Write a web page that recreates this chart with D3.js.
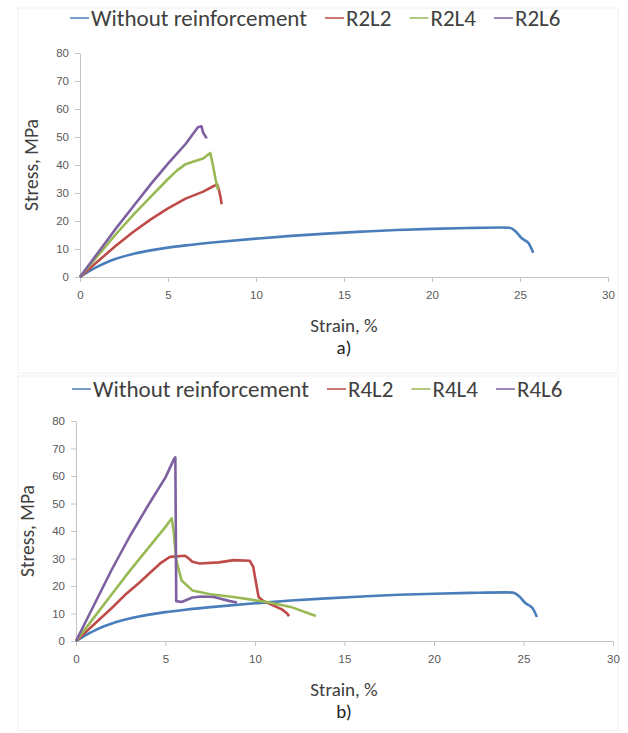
<!DOCTYPE html>
<html>
<head>
<meta charset="utf-8">
<script src="https://cdn.jsdelivr.net/npm/d3@7"></script>
<style>
  body { margin: 0; background: #fff; }
  svg { font-family: Carlito, Calibri, Lato, "Open Sans", sans-serif; }
</style>
</head>
<body>
<svg id="chart" width="628" height="733"></svg>
<script>
// ---- data (strain %, stress MPa) ----
const plainStrain = [0, 0.5, 1, 1.5, 2, 3, 4, 5, 6, 8, 10, 12, 14, 16, 18, 20, 22, 24, 24.4, 24.8, 25.1, 25.3, 25.5, 25.75];
const plainStress = [0, 2, 3.7, 5.2, 6.4, 8.2, 9.5, 10.5, 11.3, 12.6, 13.7, 14.7, 15.5, 16.2, 16.8, 17.2, 17.5, 17.7, 17.6, 16, 13.8, 13, 12, 8.7];

const r2l2Strain = [0, 1, 2, 3, 4, 5, 6, 7, 7.6, 7.8, 7.9, 8.0, 8.05];
const r2l2Stress = [0, 5.5, 11, 16, 20.5, 24.5, 28, 30.5, 32.5, 33, 31, 28, 26];
const r2l4Strain = [0, 1, 2, 3, 4, 5, 5.5, 6, 6.5, 7.0, 7.4, 7.55, 7.7, 7.85];
const r2l4Stress = [0, 7.5, 15, 22, 28.5, 35, 38, 40.3, 41.3, 42.3, 44.3, 40, 35, 31];
const r2l6Strain = [0, 1, 2, 3, 4, 5, 6, 6.7, 6.9, 7.0, 7.2];
const r2l6Stress = [0, 8.5, 17, 25, 33, 40.5, 47.5, 53.5, 53.8, 51.5, 49.5];

const r4l2Strain = [0, 1, 2, 2.83, 3.5, 4.7, 5.25, 6.1, 6.3, 6.5, 6.9, 8, 8.8, 9.7, 9.9, 10.0, 10.2, 10.45, 11, 11.5, 11.8, 11.9];
const r4l2Stress = [0, 6, 12, 17.3, 21, 28.2, 30.6, 31, 30, 28.8, 28.2, 28.6, 29.4, 29.2, 27, 23.3, 16, 14.6, 13, 11.5, 10, 9];
const r4l4Strain = [0, 1, 2, 3, 4, 5, 5.35, 5.45, 5.6, 5.9, 6.5, 7.5, 8.8, 10.65, 12, 13.4];
const r4l4Stress = [0, 8.5, 17, 25.5, 33.5, 41.5, 44.6, 40, 29.4, 22, 18.4, 17, 16, 14.2, 12.4, 9.1];
const r4l6Strain = [0, 1, 2, 3, 4, 5, 5.5, 5.55, 5.6, 5.9, 6.5, 7, 7.7, 8.6, 9];
const r4l6Stress = [0, 13, 26, 38, 49, 59.5, 66.5, 66.8, 14.5, 14.2, 15.8, 16.2, 16, 14.5, 14];

const namesA = ["Without reinforcement", "R2L2", "R2L4", "R2L6"];
const namesB = ["Without reinforcement", "R4L2", "R4L4", "R4L6"];
const xTicks = [0, 5, 10, 15, 20, 25, 30];
const yTicks = [0, 10, 20, 30, 40, 50, 60, 70, 80];

const colors = ["#4A7EBB", "#BE4B48", "#98B954", "#7D60A0"];

const svg = d3.select("#chart");

function zip(xs, ys) { return xs.map((x, i) => [x, ys[i]]); }

function drawPanel(opt) {
  const x = d3.scaleLinear().domain([0, 30]).range([opt.left, opt.right]);
  const y = d3.scaleLinear().domain([0, 80]).range([opt.bottom, opt.top]);

  // faint chart border
  svg.append("rect")
    .attr("x", opt.box[0]).attr("y", opt.box[1])
    .attr("width", opt.box[2]).attr("height", opt.box[3])
    .attr("fill", "none").attr("stroke", "#efefef");

  const xAxis = svg.append("g")
    .attr("transform", `translate(0,${opt.bottom})`)
    .call(d3.axisBottom(x).tickValues(xTicks).tickSize(5).tickSizeOuter(0).tickPadding(9));
  const yAxis = svg.append("g")
    .attr("transform", `translate(${opt.left},0)`)
    .call(d3.axisLeft(y).tickValues(yTicks).tickSize(5).tickSizeOuter(0).tickPadding(6));
  [xAxis, yAxis].forEach(a => {
    a.select(".domain").attr("stroke", "#c4c4c4");
    a.selectAll(".tick line").attr("stroke", "#c4c4c4");
    a.selectAll(".tick text").attr("fill", "#595959").style("font-size", "11.5px");
  });

  const line = d3.line().x(d => x(d[0])).y(d => y(d[1])).curve(d3.curveMonotoneX);
  const lineLin = d3.line().x(d => x(d[0])).y(d => y(d[1]));

  svg.append("g").selectAll("path")
    .data(opt.series)
    .join("path")
    .attr("d", (d, i) => (i === 0 ? line : lineLin)(d))
    .attr("fill", "none")
    .attr("stroke", (d, i) => colors[i])
    .attr("stroke-width", 2.6)
    .attr("stroke-linejoin", "round");

  // axis titles
  svg.append("text")
    .attr("transform", `translate(${opt.yTitleX},${(opt.top + opt.bottom) / 2}) rotate(-90)`)
    .attr("text-anchor", "middle")
    .attr("fill", "#404040")
    .style("font-size", "19.5px")
    .text("Stress, MPa");
  svg.append("text")
    .attr("x", 344).attr("y", opt.bottom + 55)
    .attr("text-anchor", "middle")
    .attr("fill", "#404040")
    .style("font-size", "19px")
    .text("Strain, %");
  svg.append("text")
    .attr("x", 344).attr("y", opt.bottom + 77)
    .attr("text-anchor", "middle")
    .attr("fill", "#222")
    .style("font-size", "19px")
    .text(opt.caption);

  // legend
  const legend = svg.append("g").attr("transform", `translate(${opt.legendX},${opt.legendY})`);
  let cx = 0;
  opt.names.forEach((name, i) => {
    const item = legend.append("g").attr("transform", `translate(${cx},0)`);
    item.append("line")
      .attr("x1", 0).attr("x2", 19).attr("y1", 0).attr("y2", 0)
      .attr("stroke", colors[i]).attr("stroke-width", 1.5);
    const t = item.append("text")
      .attr("x", 21).attr("dy", "0.35em")
      .attr("fill", "#404040")
      .style("font-size", "23px")
      .text(name);
    cx += 21 + t.node().getComputedTextLength() + 18;
  });
}

drawPanel({
  left: 80, right: 608, top: 53, bottom: 277,
  box: [18, 8, 600, 365],
  yTitleX: 38, caption: "a)",
  legendX: 70, legendY: 18, names: namesA,
  series: [zip(plainStrain, plainStress), zip(r2l2Strain, r2l2Stress),
           zip(r2l4Strain, r2l4Stress), zip(r2l6Strain, r2l6Stress)]
});

drawPanel({
  left: 76, right: 613, top: 421, bottom: 641,
  box: [18, 376, 600, 355],
  yTitleX: 34, caption: "b)",
  legendX: 72, legendY: 389, names: namesB,
  series: [zip(plainStrain, plainStress), zip(r4l2Strain, r4l2Stress),
           zip(r4l4Strain, r4l4Stress), zip(r4l6Strain, r4l6Stress)]
});
</script>
</body>
</html>
